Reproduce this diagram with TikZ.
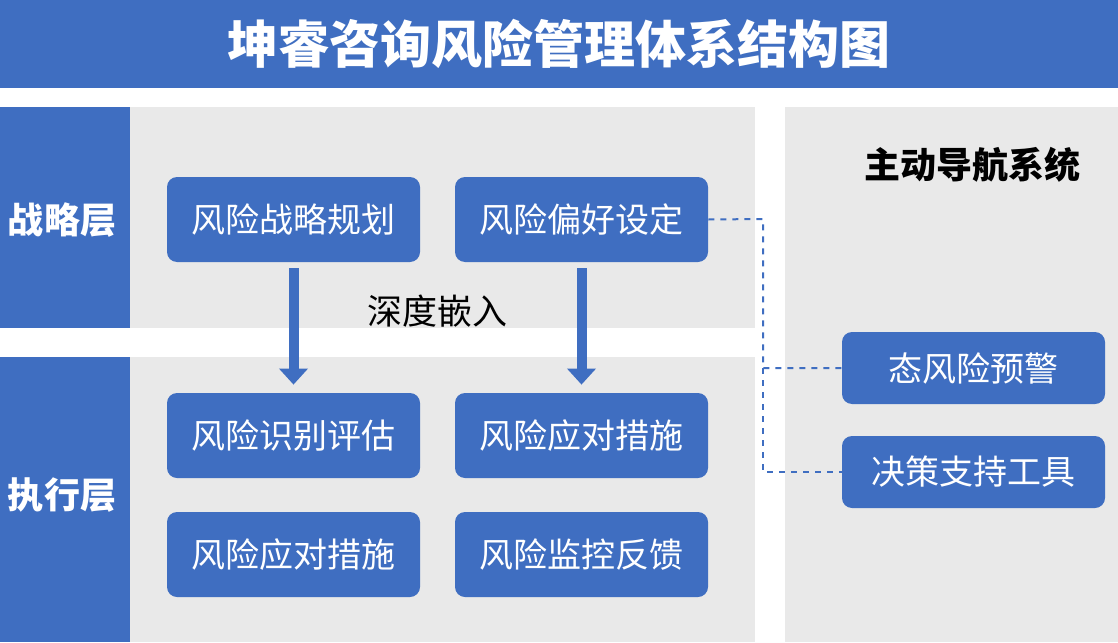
\documentclass[tikz,border=0pt]{standalone}
\usepackage{fontspec}
\usetikzlibrary{arrows.meta}
\setmainfont{Noto Sans CJK SC}
\definecolor{bl}{HTML}{3F6EC1}
\definecolor{gr}{HTML}{E9E9E9}
\begin{document}
\begin{tikzpicture}[x=0.5pt,y=-0.5pt,
  box/.style={fill=bl,rounded corners=5pt,text=white,font=\fontsize{17}{20}\selectfont,inner sep=0pt},
  lay/.style={text=white,font=\bfseries\fontsize{18}{21}\selectfont},
  dline/.style={bl,dashed,line width=1pt},
  bigarrow/.style={bl,line width=5pt,-{Triangle[length=8pt,width=14pt]}}]
\useasboundingbox (0,0) rectangle (1118,642);
\fill[white] (0,0) rectangle (1118,642);
\fill[bl] (0,0) rectangle (1118,88);
\node[text=white,font=\bfseries\fontsize{25.5}{30}\selectfont] (title) at (559,44) {坤睿咨询风险管理体系结构图};
\fill[gr] (130,107) rectangle (755,328);
\fill[gr] (130,357) rectangle (755,642);
\fill[bl] (0,107) rectangle (130,328);
\fill[bl] (0,357) rectangle (130,642);
\fill[gr] (785,107) rectangle (1118,642);
\node[lay] (l1) at (62,220) {战略层};
\node[lay] (l2) at (62,495) {执行层};
\node[font=\bfseries\fontsize{18}{21}\selectfont] (nav) at (972,165) {主动导航系统};
\node[box,minimum width=126.5pt,minimum height=42.5pt] (a) at (293.5,219.5) {风险战略规划};
\node[box,minimum width=126.5pt,minimum height=42.5pt] (b) at (581.5,219.5) {风险偏好设定};
\node[box,minimum width=126.5pt,minimum height=42.5pt] (c) at (293.5,435.5) {风险识别评估};
\node[box,minimum width=126.5pt,minimum height=42.5pt] (d) at (581.5,435.5) {风险应对措施};
\node[box,minimum width=126.5pt,minimum height=42.5pt] (e) at (293.5,554.5) {风险应对措施};
\node[box,minimum width=126.5pt,minimum height=42.5pt] (f) at (581.5,554.5) {风险监控反馈};
\node[box,minimum width=131.5pt,minimum height=36pt] (g) at (973.5,368) {态风险预警};
\node[box,minimum width=131.5pt,minimum height=36pt] (h) at (973.5,472) {决策支持工具};
\node[font=\fontsize{17.5}{20}\selectfont] (emb) at (437,311) {深度嵌入};
\draw[bigarrow] ([yshift=-3pt]a.south) -- ([yshift=4pt]c.north);
\draw[bigarrow] ([yshift=-3pt]b.south) -- ([yshift=4pt]d.north);
\coordinate (j1) at (763,219);
\coordinate (j2) at (763,368);
\coordinate (j3) at (763,472);
\draw[dline] (b.east) -- (j1) -- (j2) -- (g.west);
\draw[dline] (j2) -- (j3) -- (h.west);
\end{tikzpicture}
\end{document}
